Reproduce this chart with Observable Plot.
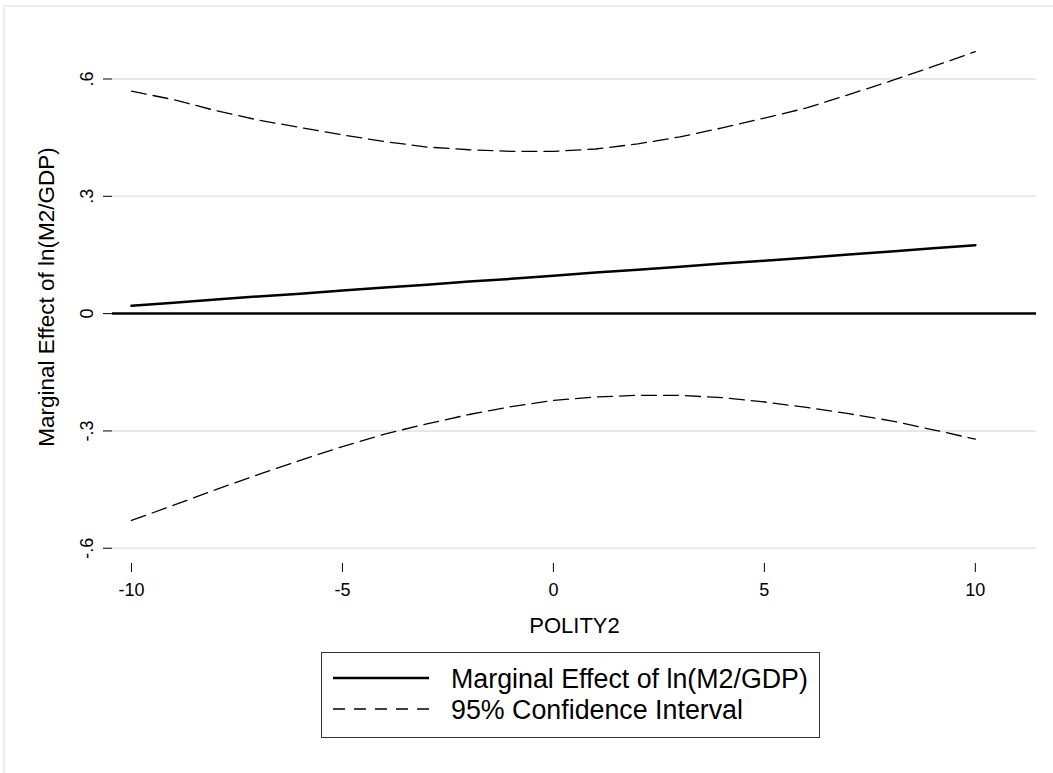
<!DOCTYPE html>
<html><head><meta charset="utf-8">
<script src="https://cdn.jsdelivr.net/npm/d3@7"></script>
<script src="https://cdn.jsdelivr.net/npm/@observablehq/plot@0.6"></script>
<style>
body{margin:0;background:#fff;font-family:"Liberation Sans",Arial,sans-serif;}
#wrap{position:relative;width:1053px;height:773px;overflow:hidden;}
#frame{position:absolute;left:3px;top:5px;width:1100px;height:800px;border-top:2px solid #ececec;border-left:2px solid #ececec;}
#chart{position:absolute;left:0;top:0;}
#legend{position:absolute;left:321px;top:652px;width:497px;height:84px;border:1px solid #333;background:#fff;}
#legend svg{display:block;}
</style></head><body>
<div id="wrap"><div id="frame"></div><div id="chart"></div><div id="legend"></div></div>
<script>
const polity  = [-10, -9, -8, -7, -6, -5, -4, -3, -2, -1, 0, 1, 2, 3, 4, 5, 6, 7, 8, 9, 10];
const effect  = [0.020, 0.028, 0.036, 0.044, 0.051, 0.059, 0.067, 0.074, 0.082, 0.089, 0.097, 0.105, 0.112, 0.120, 0.128, 0.135, 0.143, 0.151, 0.159, 0.167, 0.175];
const ciUpper = [0.569, 0.547, 0.519, 0.495, 0.476, 0.457, 0.440, 0.426, 0.419, 0.415, 0.415, 0.421, 0.434, 0.452, 0.475, 0.500, 0.526, 0.560, 0.595, 0.632, 0.670];
const ciLower = [-0.529, -0.490, -0.450, -0.412, -0.375, -0.340, -0.308, -0.282, -0.258, -0.238, -0.222, -0.213, -0.209, -0.209, -0.215, -0.226, -0.240, -0.256, -0.274, -0.297, -0.321];
const yTicks = [-0.6, -0.3, 0, 0.3, 0.6];
const yTickLabels = ["-.6", "-.3", "0", ".3", ".6"];
const xTicks = [-10, -5, 0, 5, 10];
const xTickLabels = ["-10", "-5", "0", "5", "10"];
const xTitle = "POLITY2";
const yTitle = "Marginal Effect of ln(M2/GDP)";
const seriesNames = ["Marginal Effect of ln(M2/GDP)", "95% Confidence Interval"];

const rows = polity.map((x, i) => ({x, effect: effect[i], upper: ciUpper[i], lower: ciLower[i]}));

const plot = Plot.plot({
  width: 1053, height: 645,
  marginLeft: 112, marginRight: 17, marginTop: 30, marginBottom: 82,
  x: {domain: [-10.45, 11.45]},
  y: {domain: [-0.639, 0.724]},
  style: {fontFamily: "Liberation Sans, Arial, sans-serif", color: "#000", background: "transparent", overflow: "visible"},
  marks: [
    Plot.ruleY(yTicks.filter(d => d !== 0), {stroke: "#e8e8e8", strokeWidth: 2}),
    Plot.axisY({ticks: yTicks, tickSize: 9, tickRotate: -90, tickPadding: 11, fontSize: 18,
      tickFormat: d => yTickLabels[yTicks.indexOf(d)], label: null}),
    Plot.axisX({ticks: xTicks, tickSize: 9, tickPadding: 11, fontSize: 18,
      tickFormat: d => xTickLabels[xTicks.indexOf(d)], label: null}),
    Plot.text([yTitle], {text: d => d, frameAnchor: "left", textAnchor: "middle", lineAnchor: "middle", dx: -66, rotate: -90, fontSize: 22.5}),
    Plot.text([xTitle], {text: d => d, frameAnchor: "bottom", textAnchor: "middle", lineAnchor: "middle", dy: 62, fontSize: 22}),
    Plot.ruleY([0], {stroke: "#000", strokeWidth: 2.5}),
    Plot.line(rows, {x: "x", y: "upper", stroke: "#000", strokeWidth: 1.3, strokeDasharray: "15,7"}),
    Plot.line(rows, {x: "x", y: "lower", stroke: "#000", strokeWidth: 1.3, strokeDasharray: "15,7"}),
    Plot.line(rows, {x: "x", y: "effect", stroke: "#000", strokeWidth: 2.5})
  ]
});
document.getElementById("chart").appendChild(plot);

// legend
const legendStyles = [{w: 2.5, dash: null}, {w: 1.3, dash: "12,9"}];
const ns = "http://www.w3.org/2000/svg";
const lsvg = document.createElementNS(ns, "svg");
lsvg.setAttribute("width", 497); lsvg.setAttribute("height", 84);
seriesNames.forEach((name, i) => {
  const yc = 25 + i * 31;
  const ln = document.createElementNS(ns, "line");
  ln.setAttribute("x1", 11); ln.setAttribute("x2", 107);
  ln.setAttribute("y1", yc); ln.setAttribute("y2", yc);
  ln.setAttribute("stroke", "#000"); ln.setAttribute("stroke-width", legendStyles[i].w);
  if (legendStyles[i].dash) ln.setAttribute("stroke-dasharray", legendStyles[i].dash);
  lsvg.appendChild(ln);
  const t = document.createElementNS(ns, "text");
  t.setAttribute("x", 129); t.setAttribute("y", yc + 10);
  t.setAttribute("font-size", 26.8);
  t.setAttribute("font-family", "Liberation Sans, Arial, sans-serif");
  t.textContent = name;
  lsvg.appendChild(t);
});
document.getElementById("legend").appendChild(lsvg);
</script>
</body></html>
